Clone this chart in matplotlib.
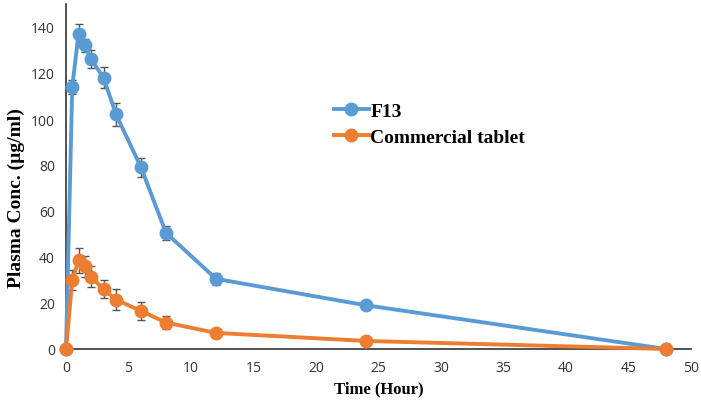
import matplotlib.pyplot as plt
from matplotlib.lines import Line2D

time = [0, 0.5, 1, 1.5, 2, 3, 4, 6, 8, 12, 24, 48]
f13 = [0, 114, 137, 132, 126, 118, 102, 79, 50.5, 30.5, 19, 0]
f13_err = [0, 3, 4.5, 3, 4, 4.5, 5, 4, 3, 2.5, 0, 0]
tablet = [0, 30, 38.5, 36, 31.5, 26, 21.5, 16.5, 11.5, 7, 3.5, 0]
tablet_err = [0, 4.5, 5.5, 4.5, 4.5, 4, 4.5, 4, 3, 0, 0, 0]

blue = '#5B9BD5'
orange = '#ED7D31'

fig = plt.figure(figsize=(7.01, 4.02), dpi=100)
ax = fig.add_axes([66/701, 52/402, 625/701, 345/402])

for y, err, c in [(f13, f13_err, blue), (tablet, tablet_err, orange)]:
    eb = ax.errorbar(time, y, yerr=err, color=c, lw=2.8, marker='o', ms=9,
                     ecolor='#555555', elinewidth=1, capsize=3, zorder=3)
    for art in eb.lines[0:1] + eb.lines[1] + eb.lines[2]:
        art.set_clip_on(False)

ax.set_xlim(0, 50)
ax.set_ylim(0, 150)
ax.set_xticks(range(0, 51, 5))
ax.set_yticks(range(0, 141, 20))
ax.tick_params(length=0, labelsize=10, colors='#333333', pad=8)
for lab in ax.get_xticklabels() + ax.get_yticklabels():
    lab.set_family('Open Sans')
for s in ['top', 'right']:
    ax.spines[s].set_visible(False)
for s in ['left', 'bottom']:
    ax.spines[s].set_color('#333333')
    ax.spines[s].set_linewidth(1.2)

ax.set_xlabel('Time (Hour)', family='Liberation Serif', weight='bold', fontsize=12)
ax.set_ylabel('Plasma Conc. (µg/ml)', family='Liberation Serif', weight='bold', fontsize=14)
ax.yaxis.set_label_coords(-0.066, 0.44)

handles = [Line2D([], [], color=blue, lw=2.8, marker='o', ms=9),
           Line2D([], [], color=orange, lw=2.8, marker='o', ms=9)]
ax.legend(handles, ['F13', 'Commercial tablet'], loc='upper left',
          bbox_to_anchor=(0.4, 0.765), frameon=False,
          prop={'family': 'Liberation Serif', 'weight': 'bold', 'size': 14},
          handlelength=1.8, handletextpad=0.1, labelspacing=0.4)

fig.savefig('out.png', dpi=100)
